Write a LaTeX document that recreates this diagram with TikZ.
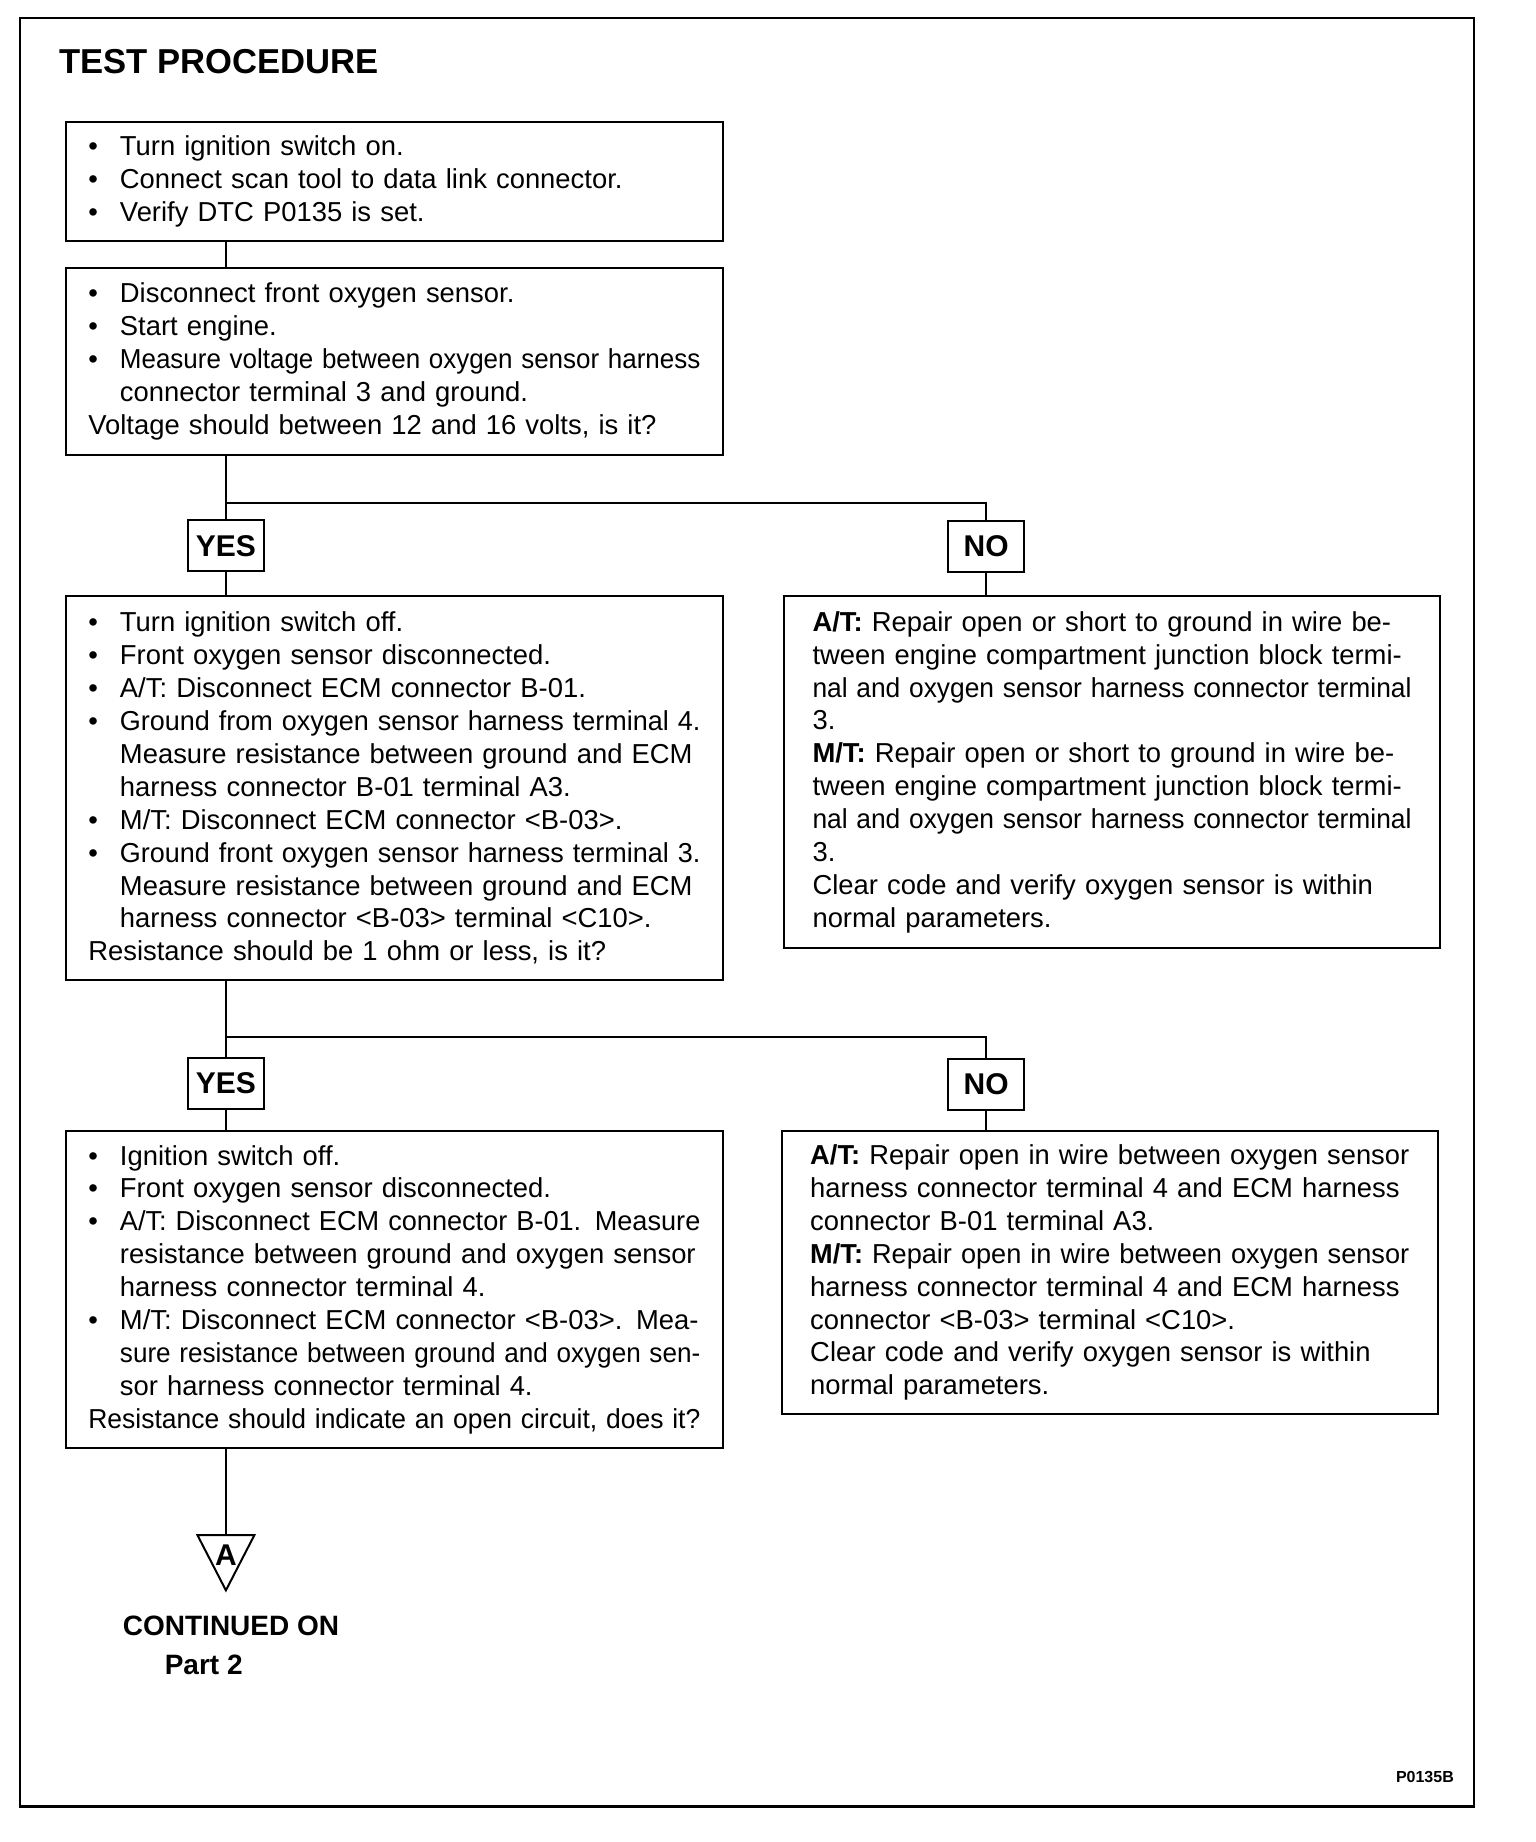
\documentclass[tikz,border=0pt]{standalone}
\usepackage{fontspec}
\setmainfont{Liberation Sans}
\usepackage{graphicx}
\usetikzlibrary{shapes.geometric, positioning}

% widths of the text columns in the step boxes
\newlength{\bulind}\setlength{\bulind}{15.8pt}
\newlength{\lcolw}\setlength{\lcolw}{306pt}
\newlength{\litemw}\setlength{\litemw}{290.2pt}
\newlength{\rcolw}\setlength{\rcolw}{299.5pt}
\newsavebox{\linebox}
\newcommand{\bul}{\makebox[\bulind][l]{\textbullet}}
\newcommand{\ind}{\hspace*{\bulind}}
% one line set to a given width (spaces spread, or squeezed if too long)
\newcommand{\fitto}[2]{\sbox{\linebox}{#2}%
  \ifdim\wd\linebox>#1\relax\resizebox{#1}{\height}{\usebox{\linebox}}%
  \else\makebox[#1][s]{#2}\fi}

\begin{document}
\begin{tikzpicture}[
    stepbox/.style={rectangle, draw=black, line width=1pt, anchor=north west, align=left, inner ysep=2pt, font=\fontsize{13.7}{16.45}\selectfont},
    leftbox/.style={stepbox, text width=\lcolw, inner xsep=11.25pt},
    rightbox/.style={stepbox, text width=\rcolw, inner xsep=14.25pt},
    answer/.style={rectangle, draw=black, line width=1pt, minimum width=38pt, minimum height=25.5pt, inner sep=0pt, font=\fontsize{15}{18}\selectfont\bfseries},
    offpage/.style={isosceles triangle, isosceles triangle stretches, shape border rotate=-90, draw=black, line width=1pt, minimum width=1.0cm, minimum height=0.97cm, inner sep=0pt},
    flowline/.style={draw, line width=1.1pt}
]

\useasboundingbox (0, 0) rectangle (26.99, 32.37);

% ─── Frame and Title ─────────────────────────────────────────────────
\draw[line width=1.3pt] (0.35, 0.62) rectangle (25.90, 32.05);
\node[anchor=west, font=\fontsize{17.3}{20}\selectfont\bfseries] (title) at (0.92, 31.28) {TEST PROCEDURE};

% ─── First Checks ────────────────────────────────────────────────────
\node[leftbox, minimum height=59.5pt] (chk1) at (1.14, 30.24) {
\bul Turn ignition switch on.\\
\bul Connect scan tool to data link connector.\\
\bul Verify DTC P0135 is set.};

\node[leftbox, minimum height=93.5pt] (chk2) at (1.14, 27.68) {
\bul Disconnect front oxygen sensor.\\
\bul Start engine.\\
\bul\fitto{\litemw}{Measure voltage between oxygen sensor harness}\\
\ind connector terminal 3 and ground.\\
Voltage should between 12 and 16 volts, is it?};

% ─── First Branch ────────────────────────────────────────────────────
\coordinate (split1) at (3.97, 23.53);
\node[answer] (yes1) at (3.97, 22.78) {YES};
\node[answer] (no1) at (17.33, 22.77) {NO};

\node[leftbox, minimum height=192pt] (chk3) at (1.14, 21.91) {
\bul Turn ignition switch off.\\
\bul Front oxygen sensor disconnected.\\
\bul A/T: Disconnect ECM connector B-01.\\
\bul\fitto{\litemw}{Ground from oxygen sensor harness terminal 4.}\\
\ind\fitto{\litemw}{Measure resistance between ground and ECM}\\
\ind harness connector B-01 terminal A3.\\
\bul M/T: Disconnect ECM connector <B-03>.\\
\bul\fitto{\litemw}{Ground front oxygen sensor harness terminal 3.}\\
\ind\fitto{\litemw}{Measure resistance between ground and ECM}\\
\ind harness connector <B-03> terminal <C10>.\\
Resistance should be 1 ohm or less, is it?};

\node[rightbox, minimum height=176pt] (fix1) at (13.76, 21.91) {
\fitto{\rcolw}{\textbf{A/T:} Repair open or short to ground in wire be-}\\
\fitto{\rcolw}{tween engine compartment junction block termi-}\\
\fitto{\rcolw}{nal and oxygen sensor harness connector terminal}\\
3.\\
\fitto{\rcolw}{\textbf{M/T:} Repair open or short to ground in wire be-}\\
\fitto{\rcolw}{tween engine compartment junction block termi-}\\
\fitto{\rcolw}{nal and oxygen sensor harness connector terminal}\\
3.\\
\fitto{\rcolw}{Clear code and verify oxygen sensor is within}\\
normal parameters.};

% ─── Second Branch ───────────────────────────────────────────────────
\coordinate (split2) at (3.97, 14.15);
\node[answer] (yes2) at (3.97, 13.33) {YES};
\node[answer] (no2) at (17.33, 13.32) {NO};

\node[leftbox, minimum height=158.5pt] (chk4) at (1.14, 12.51) {
\bul Ignition switch off.\\
\bul Front oxygen sensor disconnected.\\
\bul\fitto{\litemw}{A/T: Disconnect ECM connector B-01. Measure}\\
\ind\fitto{\litemw}{resistance between ground and oxygen sensor}\\
\ind harness connector terminal 4.\\
\bul\fitto{\litemw}{M/T: Disconnect ECM connector <B-03>. Mea-}\\
\ind\fitto{\litemw}{sure resistance between ground and oxygen sen-}\\
\ind sor harness connector terminal 4.\\
\fitto{\lcolw}{Resistance should indicate an open circuit, does it?}};

\node[rightbox, minimum height=141.5pt] (fix2) at (13.72, 12.51) {
\fitto{\rcolw}{\textbf{A/T:} Repair open in wire between oxygen sensor}\\
\fitto{\rcolw}{harness connector terminal 4 and ECM harness}\\
connector B-01 terminal A3.\\
\fitto{\rcolw}{\textbf{M/T:} Repair open in wire between oxygen sensor}\\
\fitto{\rcolw}{harness connector terminal 4 and ECM harness}\\
connector <B-03> terminal <C10>.\\
\fitto{\rcolw}{Clear code and verify oxygen sensor is within}\\
normal parameters.};

% ─── Off-page Connector ──────────────────────────────────────────────
\node[offpage, anchor=north, label={[anchor=center, yshift=-10.5pt, font=\fontsize{15}{18}\selectfont\bfseries]north:A}] (contA) at (3.97, 5.41) {};
\node[font=\fontsize{14}{16}\selectfont\bfseries] (cont) at (4.06, 3.80) {CONTINUED ON};
\node[font=\fontsize{14}{16}\selectfont\bfseries] (part) at (3.58, 3.11) {Part 2};
\node[font=\fontsize{8}{9}\selectfont\bfseries] (figid) at (25.04, 1.14) {P0135B};

% ─── Flow Lines ──────────────────────────────────────────────────────
\draw[flowline] (chk1.south -| split1) -- (chk2.north -| split1);
\draw[flowline] (chk2.south -| split1) -- (yes1.north);
\draw[flowline] (split1) -| (no1.north);
\draw[flowline] (yes1.south) -- (chk3.north -| yes1);
\draw[flowline] (no1.south) -- (fix1.north -| no1);
\draw[flowline] (chk3.south -| split2) -- (yes2.north);
\draw[flowline] (split2) -| (no2.north);
\draw[flowline] (yes2.south) -- (chk4.north -| yes2);
\draw[flowline] (no2.south) -- (fix2.north -| no2);
\draw[flowline] (chk4.south -| yes2) -- (contA.north);

\end{tikzpicture}
\end{document}
